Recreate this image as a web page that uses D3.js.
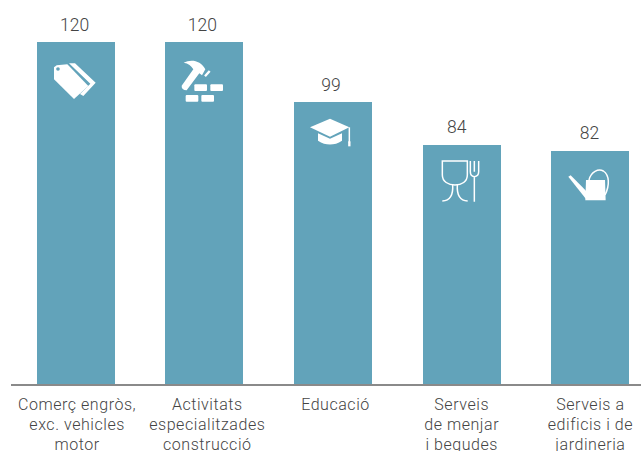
<!DOCTYPE html>
<html>
<head>
<meta charset="utf-8">
<script src="https://cdn.jsdelivr.net/npm/d3@7"></script>
<style>
body { margin: 0; background: #fff; }
text { font-family: Roboto, sans-serif; font-weight: 300; fill: #444; }
.outline { fill: none; stroke: #fff; stroke-width: 4.5; }
.solid { fill: #fff; }
</style>
</head>
<body>
<svg id="chart" style="display:block"></svg>
<script>
const categories = ['comerc', 'construccio', 'educacio', 'menjar', 'edificis'];
const values = [120, 120, 99, 84, 82];
const labels = [
    ['Comerç engròs,', 'exc. vehicles', 'motor'],
    ['Activitats', 'especialitzades', 'construcció'],
    ['Educació'],
    ['Serveis', 'de menjar', 'i begudes'],
    ['Serveis a', 'edificis i de', 'jardineria']
];

const size = { w: 641, h: 451 };

// text in the original is not quite centred on the bars
const valueShift = [-1, -2, -2, -5, -1];
const labelShift = [1.5, 3, 2.5, 0, 0];

const svg = d3.select('svg#chart')
    .attr('width', size.w)
    .attr('height', size.h);

const x = d3.scaleBand()
    .domain(categories)
    .range([36.6, 629.4])
    .paddingInner(0.3939)
    .paddingOuter(0);

const y = d3.scaleLinear()
    .domain([0, 120])
    .range([385, 42]);

svg.selectAll('rect.bar')
    .data(categories)
    .join('rect')
    .classed('bar', true)
    .attr('x', d => x(d))
    .attr('y', (d, i) => y(values[i]))
    .attr('width', x.bandwidth())
    .attr('height', (d, i) => y(0) - y(values[i]))
    .attr('shape-rendering', 'crispEdges')
    .attr('fill', '#62a3ba');

// baseline
svg.append('line')
    .attr('x1', 11).attr('x2', 641)
    .attr('y1', 385).attr('y2', 385)
    .attr('stroke', '#8a8a8a')
    .attr('stroke-width', 2);

svg.selectAll('text.value')
    .data(categories)
    .join('text')
    .classed('value', true)
    .attr('x', (d, i) => x(d) + x.bandwidth() / 2 + valueShift[i])
    .attr('y', (d, i) => y(values[i]) - 11.5)
    .attr('text-anchor', 'middle')
    .attr('font-size', 17.5)
    .text((d, i) => values[i]);

const labelG = svg.selectAll('g.label')
    .data(categories)
    .join('g')
    .classed('label', true)
    .attr('transform', (d, i) => `translate(${x(d) + x.bandwidth() / 2 + labelShift[i]}, 409.5)`);

labelG.selectAll('text')
    .data((d, i) => labels[i])
    .join('text')
    .attr('y', (d, i) => i * 20)
    .attr('text-anchor', 'middle')
    .attr('font-size', 16)
    .attr('letter-spacing', 0.55)
    .text(d => d);

// icons, drawn at 3x and scaled down, placed relative to the corner of each bar
const icons = {
    comerc: { dx: -7, dy: -32, draw: g => {
        g.append('path').classed('solid', true)
            .attr('d', 'M72,172 L80,166 L112,163 L175,228 L132,267 L72,208 Z');
        g.append('path').classed('solid', true)
            .attr('d', 'M117,160 L135,160 L197,218 L160,258 L150,252 L181,221 Z');
        g.append('circle').attr('cx', 84).attr('cy', 177).attr('r', 5.5).attr('fill', '#62a3ba');
    } },
    construccio: { dx: -135, dy: -32, draw: g => {
        g.append('path').classed('solid', true)
            .attr('d', 'M461,158 C482,147 512,150 526,178 L516,196 L508,190 L470,241 Q454,240 455,227 L490,178 C484,168 475,160 461,158 Z');
        g.append('line').classed('outline', true)
            .attr('x1', 525).attr('y1', 199).attr('x2', 539).attr('y2', 183)
            .style('stroke-width', 7);
        [[493, 223], [541, 223], [467, 255], [514, 255]].forEach(b => {
            g.append('rect').classed('solid', true)
                .attr('x', b[0]).attr('y', b[1])
                .attr('width', 38).attr('height', 20).attr('rx', 3);
        });
    } },
    educacio: { dx: -4, dy: -32, draw: g => {
        g.append('path').classed('solid', true)
            .attr('d', 'M60,172 L120,146 L178,172 L120,200 Z');
        g.append('path').classed('solid', true)
            .attr('d', 'M84,190 L120,206 L156,190 L156,212 Q120,235 84,212 Z');
        g.append('line').classed('outline', true)
            .attr('x1', 178).attr('y1', 172).attr('x2', 178).attr('y2', 218);
        g.append('rect').classed('solid', true)
            .attr('x', 174.5).attr('y', 214).attr('width', 7).attr('height', 15);
    } },
    menjar: { dx: -133, dy: -75, draw: g => {
        g.append('path').classed('outline', true)
            .attr('d', 'M457,273 H532 V315 C532,335 515,345 495,345 C475,345 457,335 457,315 Z');
        g.append('path').classed('outline', true)
            .attr('d', 'M488,345 C490,375 480,392 457,393 M502,345 C500,375 510,392 533,393');
        g.append('path').classed('outline', true)
            .attr('d', 'M541,273 V305 Q541,318 553,320 Q566,318 566,305 V273 M553,273 V305 M553,320 V395');
    } },
    edificis: { dx: -261, dy: -81, draw: g => {
        g.append('path').classed('solid', true)
            .attr('d', 'M888,330 H945 L947,391 H886 Z');
        g.append('path').classed('solid', true)
            .attr('d', 'M835,320 L842,316 L888,362 L888,387 Z');
        g.append('path').classed('outline', true)
            .attr('d', 'M897,330 C903,305 925,295 940,303 C958,315 960,345 945,375');
    } }
};

svg.selectAll('g.icon')
    .data(categories)
    .join('g')
    .classed('icon', true)
    .attr('transform', (d, i) => `translate(${Math.round(x(d)) + icons[d].dx}, ${Math.round(y(values[i])) + icons[d].dy}) scale(${1 / 3})`)
    .each(function (d) {
        icons[d].draw(d3.select(this));
    });
</script>
</body>
</html>
